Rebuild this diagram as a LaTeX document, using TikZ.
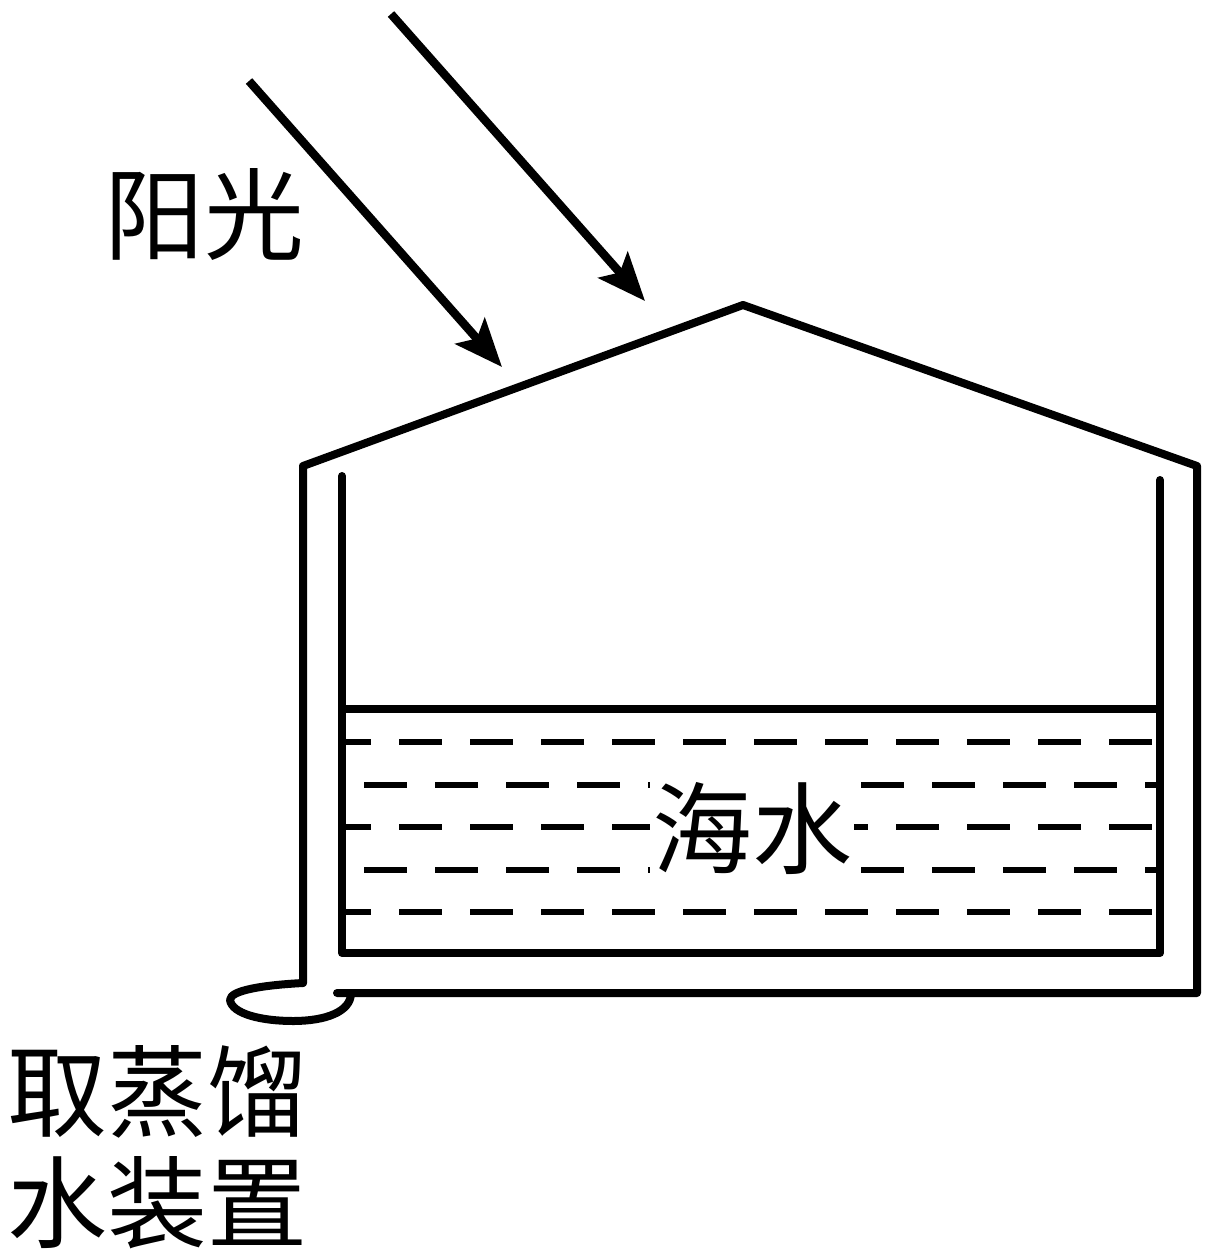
\documentclass[tikz,border=0pt]{standalone}
\usepackage{fontspec}
\newfontfamily\cjk{Noto Sans CJK SC}
\usetikzlibrary{arrows.meta}
\tikzset{
	wall/.style={line width=8pt, line join=round, line cap=round},
	ray/.style={line width=8.5pt, -{Stealth[length=48pt, width=39pt, inset=10pt]}},
	wave/.style={line width=6.5pt, dash pattern=on 43pt off 28pt},
	label/.style={inner sep=0pt, font=\cjk\fontsize{100}{116}\selectfont}
}
\begin{document}
\begin{tikzpicture}[x=1pt, y=-1pt]
		\useasboundingbox (0,0) rectangle (1211,1258);

		\coordinate (A) at (391,14);
		\coordinate (B) at (645,301);
		\coordinate (C) at (249,81);
		\coordinate (D) at (502,367);
		\draw[ray] (A) -- (B);
		\draw[ray] (C) -- (D);

		\coordinate (L) at (303,983);
		\coordinate (T) at (303,466);
		\coordinate (R) at (743,305);
		\coordinate (S) at (1197,466);
		\coordinate (F) at (1197,993);
		\coordinate (G) at (337,993);
		\draw[wall] (L) -- (T) -- (R) -- (S) -- (F) -- (G);
		\draw[wall] (L) .. controls (265,985) and (230,990) .. (230,1000)
			.. controls (232,1014) and (262,1021) .. (293,1021)
			.. controls (325,1021) and (351,1012) .. (351,993);

		\coordinate (P) at (342,476);
		\coordinate (Q) at (342,953);
		\coordinate (U) at (1160,953);
		\coordinate (V) at (1160,480);
		\draw[wall] (P) -- (Q) -- (U) -- (V);
		\draw[line width=7.5pt] (342,709) coordinate (W) -- (1160,709) coordinate (X);

		\foreach \row in {742,827,912} {
			\draw[wave, dash phase=17pt] (345,\row) -- (1157,\row);
		}
		\foreach \row in {785,870} {
			\draw[wave] (364,\row) -- (1157,\row);
		}

		\node[label, fill=white, inner xsep=2pt, inner ysep=7pt] (sea) at (752,828) {海水};
		\node[label] (sun) at (204,214) {阳光};
		\node[label] (top) at (157,1092) {取蒸馏};
		\node[label] (bottom) at (157,1203) {水装置};
	\end{tikzpicture}
\end{document}
